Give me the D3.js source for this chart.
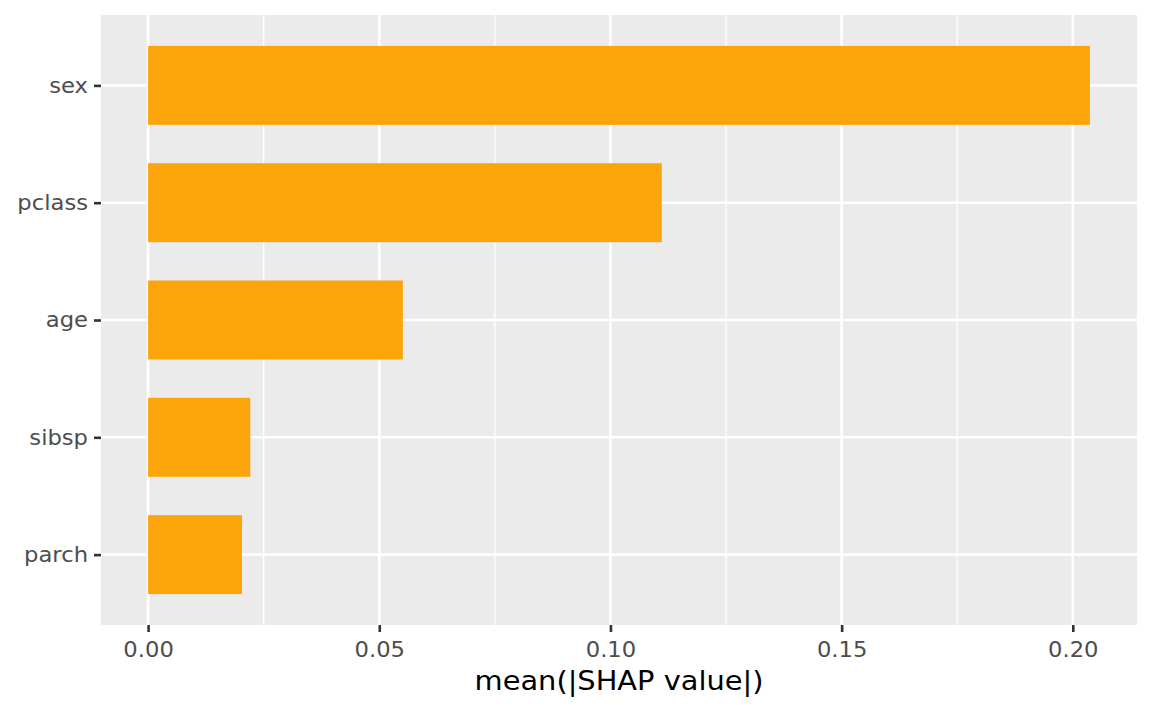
<!DOCTYPE html>
<html>
<head>
<meta charset="utf-8">
<script src="https://cdn.jsdelivr.net/npm/d3@7"></script>
<style>
  html, body { margin: 0; padding: 0; background: #fff; }
  svg { display: block; }
  text { font-family: "DejaVu Sans", sans-serif; }
</style>
</head>
<body>
<svg id="chart" width="1152" height="711"></svg>
<script>
// Data (top-to-bottom order)
const features = ["sex", "pclass", "age", "sibsp", "parch"];
const importance = [0.2037, 0.1111, 0.0551, 0.0221, 0.0203];
const xTicks = [0.00, 0.05, 0.10, 0.15, 0.20];
const xMinorTicks = [0.025, 0.075, 0.125, 0.175];
const xTitle = "mean(|SHAP value|)";

const W = 1152, H = 711;
const panel = { left: 101, right: 1137, top: 15, bottom: 625 };
const tickFont = 21, tickStretch = 1.08;
const titleFont = 26, titleStretch = 1.11;

const svg = d3.select("#chart");

const maxV = d3.max(importance);
const pad = maxV * 0.05;
const x = d3.scaleLinear().domain([-pad, maxV + pad]).range([panel.left, panel.right]);
const y = d3.scalePoint().domain(features).range([panel.top, panel.bottom]).padding(0.6);
const barH = y.step() * 0.673;

// panel background
svg.append("rect")
  .attr("x", panel.left).attr("y", panel.top)
  .attr("width", panel.right - panel.left).attr("height", panel.bottom - panel.top)
  .attr("fill", "#EBEBEB");

// minor grid
svg.append("g").selectAll("line").data(xMinorTicks).join("line")
  .attr("x1", d => x(d)).attr("x2", d => x(d))
  .attr("y1", panel.top).attr("y2", panel.bottom)
  .attr("stroke", "#fff").attr("stroke-width", 1.3);

// major grid
svg.append("g").selectAll("line").data(xTicks).join("line")
  .attr("x1", d => x(d)).attr("x2", d => x(d))
  .attr("y1", panel.top).attr("y2", panel.bottom)
  .attr("stroke", "#fff").attr("stroke-width", 2.6);
svg.append("g").selectAll("line").data(features).join("line")
  .attr("x1", panel.left).attr("x2", panel.right)
  .attr("y1", d => y(d)).attr("y2", d => y(d))
  .attr("stroke", "#fff").attr("stroke-width", 2.6);

// bars
svg.append("g").selectAll("rect").data(features).join("rect")
  .attr("x", x(0))
  .attr("y", d => y(d) - barH / 2)
  .attr("width", (d, i) => x(importance[i]) - x(0))
  .attr("height", barH)
  .attr("fill", "#fca50a");

// x axis
const xAxis = d3.axisBottom(x).tickValues(xTicks).tickFormat(d3.format(".2f"))
  .tickSize(7).tickPadding(10);
const gx = svg.append("g").attr("transform", `translate(0,${panel.bottom})`).call(xAxis);
gx.select(".domain").remove();
gx.selectAll(".tick line").attr("stroke", "#333333").attr("stroke-width", 2.6);
gx.selectAll(".tick text").attr("fill", "#4D4D4D").attr("font-size", tickFont)
  .attr("font-family", "DejaVu Sans")
  .attr("transform", `scale(${tickStretch},1)`);

// y axis
const yLabelEnd = -13;
const yAxis = d3.axisLeft(y).tickSize(7).tickPadding(6);
const gy = svg.append("g").attr("transform", `translate(${panel.left},0)`).call(yAxis);
gy.select(".domain").remove();
gy.selectAll(".tick line").attr("stroke", "#333333").attr("stroke-width", 2.6);
gy.selectAll(".tick text").attr("fill", "#4D4D4D").attr("font-size", tickFont)
  .attr("font-family", "DejaVu Sans")
  .attr("x", yLabelEnd / tickStretch)
  .attr("transform", `scale(${tickStretch},1)`);

// x title
const cx = (panel.left + panel.right) / 2;
svg.append("text")
  .attr("x", cx / titleStretch)
  .attr("y", 690)
  .attr("transform", `scale(${titleStretch},1)`)
  .attr("text-anchor", "middle")
  .attr("font-size", titleFont)
  .attr("fill", "#000")
  .text(xTitle);
</script>
</body>
</html>
